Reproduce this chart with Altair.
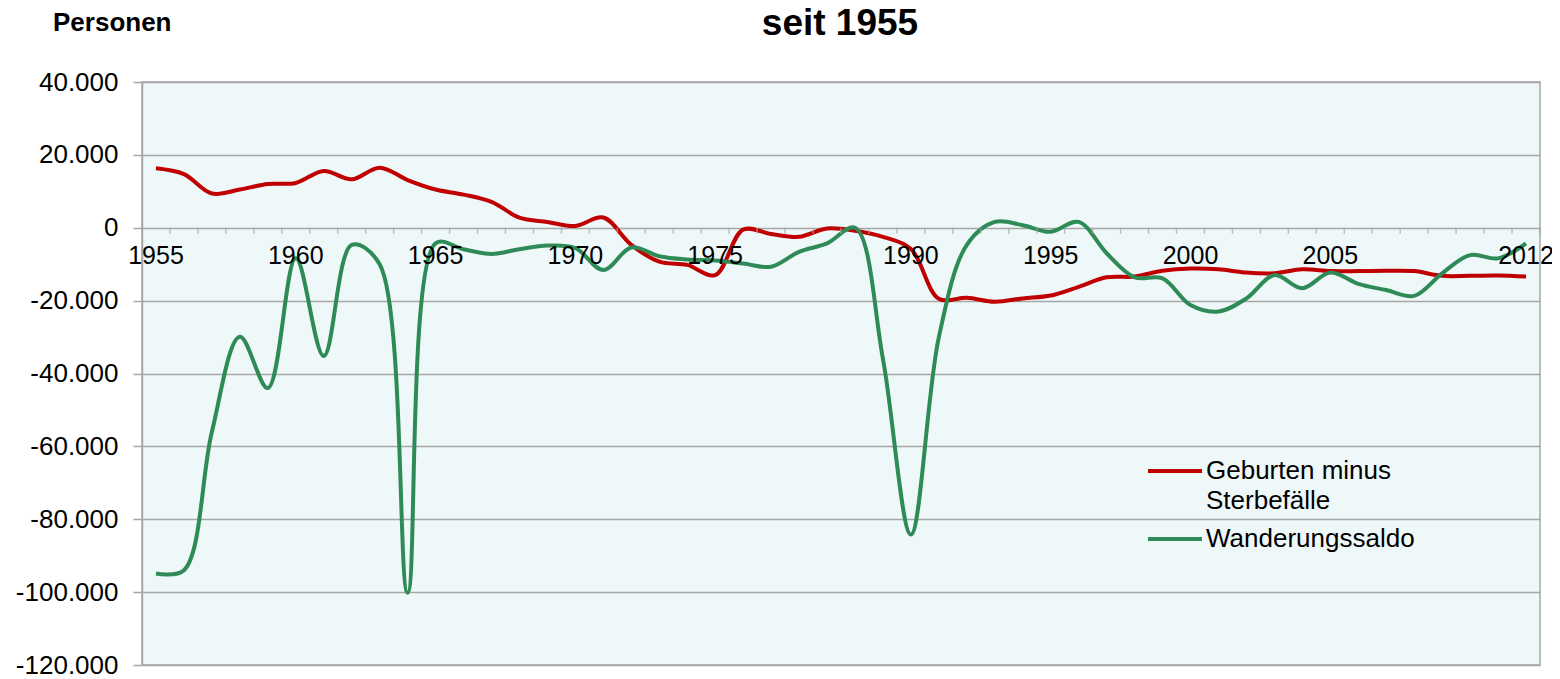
import altair as alt
import pandas as pd

# ---- data ----
years = [str(y) for y in range(1955, 1976)] + ["1980", "1985", "1986", "1987", "1988", "1989"] + [str(y) for y in range(1990, 2013)]
shown_labels = ["1955", "1960", "1965", "1970", "1975", "1990", "1995", "2000", "2005", "2012"]

natural = [16300, 14700, 9400, 10500, 12000, 12300, 15600, 13300, 16500, 13100,
           10500, 9100, 7100, 2800, 1600, 500, 2800, -4700, -9300, -10200,
           -13000, -500, -1700, -2500, -200, -800, -2500, -5800, -19500, -19200,
           -20300, -19400, -18600, -16200, -13600, -13400, -11800, -11200, -11400, -12300,
           -12500, -11400, -11900, -11900, -11800, -11900, -13200, -13200, -13100, -13400]

migration = [-94900, -94000, -56000, -29900, -44000, -8400, -35200, -4700, -10000, -100200,
             -4300, -5900, -7200, -5900, -4900, -5600, -11600, -5400, -7800, -8700,
             -9000, -9800, -10700, -6600, -4300, 0, -36000, -84200, -30000, -4700,
             1600, 700, -1100, 1600, -7000, -13600, -13900, -21200, -23000, -19400,
             -13000, -16600, -12300, -15400, -17100, -18700, -12500, -7500, -8400, -4300]

series_names = ["Geburten minus Sterbefälle", "Wanderungssaldo"]
series_colors = ["#C00000", "#2E8B57"]
y_ticks = [-120000, -100000, -80000, -60000, -40000, -20000, 0, 20000, 40000]

# ---- tables ----
n = len(years)
rows = []
for i in range(n):
    rows.append({"idx": i, "year": years[i], "value": natural[i], "series": series_names[0]})
    rows.append({"idx": i, "year": years[i], "value": migration[i], "series": series_names[1]})
df = pd.DataFrame(rows)

ticks_df = pd.DataFrame({"b": [i + 0.5 for i in range(-1, n)], "value": 0})
labels_df = pd.DataFrame({"idx": [years.index(l) for l in shown_labels], "label": shown_labels, "value": 0})

GRID = "#a6a6a6"
FONT = "Liberation Sans"

xscale = alt.Scale(domain=[-0.5, n - 0.5], nice=False, zero=False)
yscale = alt.Scale(domain=[-120000, 40000], nice=False)

label_expr = "(datum.value < 0 ? '-' : '') + replace(format(abs(datum.value), ','), ',', '.')"
yaxis = alt.Axis(
    values=y_ticks, grid=True, gridColor=GRID, gridWidth=1.5,
    domainColor=GRID, domainWidth=1.5, tickColor=GRID, tickWidth=1.5, tickSize=9,
    labelFontSize=26, labelFont=FONT, labelColor="#000000", labelPadding=15,
    labelExpr=label_expr, title=None)

Y = alt.Y("value:Q", scale=yscale, axis=yaxis)

lines = alt.Chart(df).mark_line(interpolate="catmull-rom", strokeWidth=4).encode(
    x=alt.X("idx:Q", scale=xscale, axis=None),
    y=Y,
    color=alt.Color("series:N", scale=alt.Scale(domain=series_names, range=series_colors), legend=None),
)

xticks = alt.Chart(ticks_df).mark_tick(orient="vertical", size=6, thickness=1.5, yOffset=3, color=GRID).encode(
    x=alt.X("b:Q", scale=xscale, axis=None),
    y=Y,
)

xlabels = alt.Chart(labels_df).mark_text(fontSize=25, font=FONT, baseline="alphabetic", dy=36, color="#000000").encode(
    x=alt.X("idx:Q", scale=xscale, axis=None),
    y=Y,
    text="label:N",
)

one = pd.DataFrame({"k": [0]})

def rule(x1, x2, y, color):
    return alt.Chart(one).mark_rule(strokeWidth=4, color=color).encode(
        x=alt.value(x1), x2=alt.value(x2), y=alt.value(y))

def txt(s, x, y, size, bold=False, align="left"):
    return alt.Chart(one).mark_text(fontSize=size, font=FONT, fontWeight="bold" if bold else "normal",
                                    align=align, baseline="alphabetic", color="#000000").encode(
        x=alt.value(x), y=alt.value(y), text=alt.value(s))

legend = (rule(1006, 1060, 389, series_colors[0])
          + txt("Geburten minus", 1064, 397, 26)
          + txt("Sterbefälle", 1064, 427, 26)
          + rule(1006, 1060, 457, series_colors[1])
          + txt("Wanderungssaldo", 1064, 465, 26))

titles = txt("seit 1955", 698, -47, 37, bold=True, align="center") + txt("Personen", -89, -51, 26, bold=True)

chart = alt.layer(lines, xticks, xlabels, legend, titles).properties(
    width=1398, height=583,
    autosize=alt.AutoSizeParams(type="none"),
    padding={"left": 134, "top": 74, "right": 12, "bottom": 13},
    background="#ffffff",
).configure(font=FONT).configure_view(fill="#EFF8F8", stroke=GRID, strokeWidth=1.5)

chart.save("out.html", embed_options={"renderer": "svg", "actions": False})
